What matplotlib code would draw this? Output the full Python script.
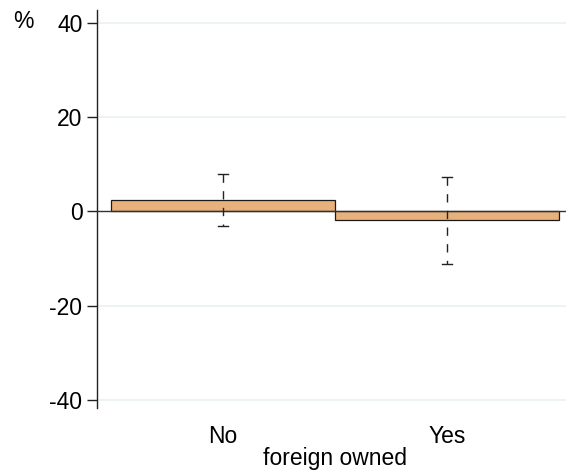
import numpy as np
import matplotlib.pyplot as plt

# diferencia media (%) por propiedad extranjera, con intervalos de confianza
categorias = ['No', 'Yes']
valores = [2.4, -1.9]
ic_bajo = [-3.1, -11.2]
ic_alto = [8.0, 7.3]

x = np.arange(len(categorias))
fuente = 'Liberation Sans'
tam = 16.5

fig = plt.figure(figsize=(5.66, 4.73), dpi=100)
ax = fig.add_axes([97 / 566, 65 / 473, 1 - 97 / 566, 398 / 473])

ax.set_xlim(-0.5625, 1.531)
ax.set_ylim(-41.7, 42.76)

# rejilla horizontal tenue
for yv in [-40, -20, 20, 40]:
    ax.axhline(yv, color='#eaf1f3', lw=1.2, zorder=0)

ax.bar(x, valores, width=1.0, color='#e8b07a', edgecolor='#1a1a1a', lw=0.9, zorder=2)
ax.axhline(0, color='#333333', lw=1.0, zorder=3)

# barras de error discontinuas
for xi, lo, hi in zip(x, ic_bajo, ic_alto):
    ax.plot([xi, xi], [hi, lo], color='#222222', lw=1.0, dashes=(6, 6), zorder=4)
    ax.plot([xi - 0.022, xi + 0.022], [lo, lo], color='#222222', lw=1.0, zorder=4)
    ax.plot([xi - 0.022, xi + 0.022], [hi, hi], color='#222222', lw=1.0, zorder=4)

ax.set_yticks([-40, -20, 0, 20, 40])
ax.set_yticklabels(['-40', '-20', '0', '20', '40'], fontsize=tam, family=fuente)
ax.tick_params(axis='y', length=7, width=1, color='#222222', pad=3.5)
ax.set_xticks(x)
ax.set_xticklabels(categorias, fontsize=tam, family=fuente)
ax.tick_params(axis='x', length=0, pad=12.5)

for s in ['top', 'right', 'bottom']:
    ax.spines[s].set_visible(False)
ax.spines['left'].set_color('#222222')
ax.spines['left'].set_linewidth(1.0)

fig.text(23 / 566, 1 - 21 / 473, '%', fontsize=tam, family=fuente, ha='center', va='center')
fig.text(335 / 566, 1 - 458 / 473, 'foreign owned', fontsize=tam, family=fuente, ha='center', va='center')

fig.savefig('out.png', dpi=100)
